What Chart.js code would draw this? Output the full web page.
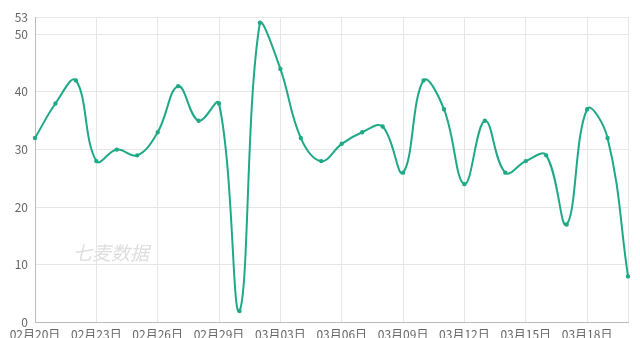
<!DOCTYPE html>
<html><head><meta charset="utf-8">
<script src="https://cdn.jsdelivr.net/npm/chart.js@4/dist/chart.umd.min.js"></script>
<style>html,body{margin:0;padding:0;background:#fff}#wrap{width:640px;height:338px}</style>
</head><body><div id="wrap"><canvas id="c" width="640" height="338"></canvas></div>
<script>
const categories = ["02月20日","02月21日","02月22日","02月23日","02月24日","02月25日","02月26日","02月27日","02月28日","02月29日","03月01日","03月02日","03月03日","03月04日","03月05日","03月06日","03月07日","03月08日","03月09日","03月10日","03月11日","03月12日","03月13日","03月14日","03月15日","03月16日","03月17日","03月18日","03月19日","03月20日"];
const values = [32,38,42,28,30,29,33,41,35,38,2,52,44,32,28,31,33,34,26,42,37,24,35,26,28,29,17,37,32,8];
const yTicks = [0,10,20,30,40,50,53];
const watermark = "七麦数据";

const FONT = "'Noto Sans CJK SC', 'Noto Sans', sans-serif";
const wm = {
  id:'wm',
  beforeDatasetsDraw(chart){
    const ctx = chart.ctx;
    ctx.save();
    ctx.font = "italic 19px " + FONT;
    ctx.fillStyle = "#dedede";
    ctx.textBaseline = "middle";
    ctx.fillText(watermark, 73, 253);
    ctx.restore();
  }
};
new Chart(document.getElementById('c'), {
  type:'line',
  data:{labels:categories, datasets:[{data:values, borderColor:'#1fa987', backgroundColor:'#1fa987', borderWidth:2, pointRadius:1.2, pointHoverRadius:1.2, tension:0.4, fill:false}]},
  options:{
    responsive:false, animation:false,
    layout:{padding:{top:17, right:12, left:0, bottom:0}},
    plugins:{legend:{display:false}, tooltip:{enabled:false}},
    scales:{
      x:{
        grid:{color:(c)=> (c.index%3===0 || c.index===categories.length-1) ? '#e6e6e6' : 'transparent', drawTicks:false},
        border:{color:'#bbbbbb'},
        ticks:{autoSkip:false, maxRotation:0, minRotation:0, padding:5, color:'#666', font:{family:FONT, size:12},
          callback:(v,i)=> i%3===0 ? categories[i] : ''},
        afterFit:(s)=>{s.height=15.5;}
      },
      y:{
        min:0, max:53,
        afterBuildTicks:(s)=>{s.ticks = yTicks.map(v=>({value:v}));},
        grid:{color:'#e6e6e6', drawTicks:false},
        border:{color:'#bbbbbb'},
        ticks:{padding:7, color:'#666', font:{family:FONT, size:12}},
        afterFit:(s)=>{s.width=35;}
      }
    }
  },
  plugins:[wm]
});
</script></body></html>
